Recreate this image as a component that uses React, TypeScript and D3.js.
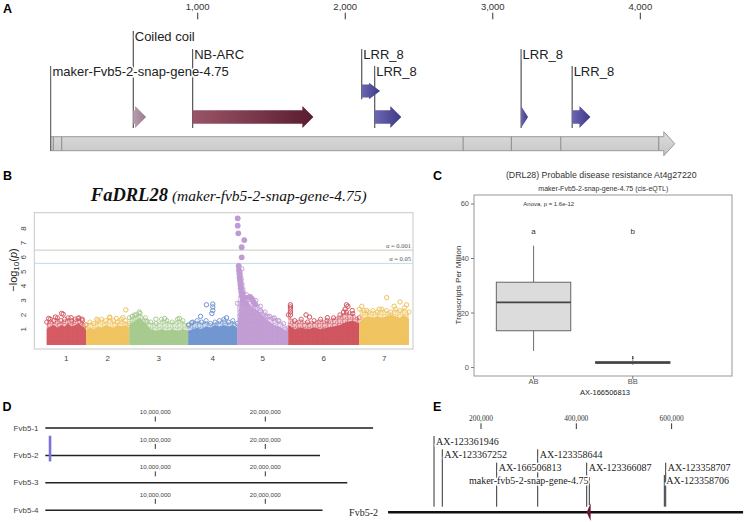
import React from 'react';
import * as d3 from 'd3';

// ---------- A: gene model (bp) ----------
const aTicks = [1000, 2000, 3000, 4000];
const geneName = 'maker-Fvb5-2-snap-gene-4.75';
const geneStart = 3;
const geneEnd = 4234;
const exonBreaks = [21, 78, 2799, 3126, 3461, 4125];
const domainNames = ['Coiled coil', 'NB-ARC', 'LRR_8', 'LRR_8', 'LRR_8', 'LRR_8'];
const domainStart = [563, 966, 2112, 2200, 3192, 3538];
const domainEnd = [650, 1784, 2236, 2380, 3239, 3662];
const domainTrack = [1, 1, 0, 1, 1, 1];
const domainLabelLevel = [0, 1, 1, 2, 1, 2];

// ---------- B: manhattan ----------
const chromNames = ['1', '2', '3', '4', '5', '6', '7'];
const chromLen = [39.3, 43.3, 59, 49, 51, 71, 49.7];
const bTicks = [1, 2, 3, 4, 5, 6, 7, 8];
const thresholds = [6.5, 5.58];
const thresholdLabels = ['α = 0.001', 'α = 0.05'];
// upper edge of the solid point cloud, evenly spaced along each chromosome
const denseTop = [
  [1.0, 1.2, 1.3, 1.1, 1.3, 1.2, 1.4, 1.2, 1.3, 1.4, 1.2, 1.0],
  [0.9, 1.1, 1.0, 1.2, 1.1, 1.3, 1.2, 1.1, 1.3, 1.2, 1.3, 1.1],
  [1.3, 1.6, 1.8, 1.4, 1.0, 0.9, 1.0, 0.9, 1.0, 0.9, 1.0, 0.9],
  [0.9, 1.0, 1.1, 1.0, 1.2, 1.1, 1.3, 1.2, 1.3, 1.2, 1.3, 1.1],
  [1.0, 4.6, 3.0, 2.6, 2.4, 2.1, 1.8, 1.5, 1.3, 1.2, 1.0, 0.9],
  [1.3, 1.0, 1.1, 1.0, 1.1, 1.0, 1.1, 1.2, 1.3, 1.5, 1.6, 1.4],
  [1.5, 1.8, 1.9, 1.8, 1.9, 1.8, 1.9, 2.0, 1.9, 1.8, 2.0, 1.7],
];
// upper edge of the sparser halo of points
const sparseTop = [
  [1.5, 1.7, 1.6, 1.8, 1.6, 1.7, 1.8, 1.6, 1.7, 1.8, 1.6, 1.3],
  [1.3, 1.5, 1.4, 1.6, 1.7, 1.6, 1.8, 1.6, 1.5, 1.7, 1.6, 1.4],
  [1.8, 2.0, 2.1, 1.8, 1.5, 1.4, 1.7, 1.6, 1.5, 1.7, 1.6, 1.3],
  [1.3, 1.5, 1.6, 1.5, 1.6, 1.4, 1.5, 1.6, 1.7, 1.5, 1.6, 1.4],
  [2.8, 5.2, 3.4, 3.2, 3.0, 2.6, 2.2, 1.9, 1.8, 1.6, 1.4, 1.1],
  [2.0, 1.6, 1.7, 1.5, 1.6, 1.7, 1.6, 1.8, 2.0, 2.2, 2.1, 1.8],
  [2.4, 2.3, 2.2, 2.3, 2.2, 2.4, 2.3, 2.2, 2.4, 2.3, 2.5, 2.2],
];
// [chromosome index, fraction along chromosome, -log10 p]
const outliers = [
  [0, 0.05, 1.75], [0, 0.22, 1.85], [0, 0.38, 2.1], [0, 0.42, 2.05], [0, 0.62, 1.8], [0, 0.8, 1.75], [0, 0.9, 1.7],
  [1, 0.25, 1.7], [1, 0.55, 1.85], [1, 0.7, 1.75], [1, 0.85, 1.8], [1, 0.92, 2.35],
  [2, 0.05, 1.9], [2, 0.12, 2.0], [2, 0.17, 2.2], [2, 0.3, 1.55], [2, 0.45, 1.7], [2, 0.6, 1.75], [2, 0.85, 1.75],
  [3, 0.07, 1.45], [3, 0.25, 1.9], [3, 0.37, 2.7], [3, 0.48, 2.1], [3, 0.5, 2.3], [3, 0.5, 2.55], [3, 0.5, 2.75], [3, 0.78, 1.8],
  [4, 0.45, 2.3], [4, 0.5, 2.0], [4, 0.6, 1.9], [4, 0.7, 1.75], [4, 0.8, 1.6],
  [5, 0.03, 2.0], [5, 0.03, 2.2], [5, 0.03, 2.4], [5, 0.03, 2.55], [5, 0.03, 2.7], [5, 0.25, 2.0], [5, 0.3, 1.85],
  [5, 0.55, 1.8], [5, 0.78, 2.2], [5, 0.8, 2.4], [5, 0.82, 2.7], [5, 0.84, 2.6], [5, 0.9, 2.3],
  [6, 0.05, 2.6], [6, 0.15, 2.3], [6, 0.4, 2.4], [6, 0.55, 3.2], [6, 0.7, 2.6], [6, 0.82, 2.9], [6, 0.95, 2.7],
];
// significant SNPs on chromosome 5: [fraction along chromosome, -log10 p]
const chr5Peak = [
  [0.008, 8.71], [0.008, 8.2], [0.02, 7.67], [0.137, 7.2], [0.086, 6.7], [0.086, 6.0], [0.027, 5.4],
  [0.033, 5.1], [0.04, 4.85], [0.045, 4.6], [0.053, 4.35], [0.06, 4.1], [0.067, 3.85], [0.078, 3.6],
  [0.09, 3.35], [0.11, 3.1], [0.17, 2.8], [0.21, 3.2], [0.25, 3.25], [0.29, 3.1], [0.32, 2.9], [0.35, 2.7],
];

// ---------- C: boxplot ----------
const genotypes = ['AB', 'BB'];
const boxLow = [6.1, 1.0];
const boxQ1 = [13.5, 1.5];
const boxMedian = [23.9, 1.8];
const boxQ3 = [31.3, 2.2];
const boxHigh = [44.7, 2.7];
const bbOutliers = [3.3, 3.9];
const groupLetters = ['a', 'b'];
const cTicks = [0, 20, 40, 60];

// ---------- D: chromosomes ----------
const dChroms = ['Fvb5-1', 'Fvb5-2', 'Fvb5-3', 'Fvb5-4'];
const dChromLen = [29.8e6, 24.97e6, 27.45e6, 25.2e6];
const dTicks = [10e6, 20e6];
const dHighlightChrom = 'Fvb5-2';
const dHighlightPos = 0.43e6;

// ---------- E: region ----------
const eTicks = [200000, 400000, 600000];
const eRegion = [5000, 750000];
const markerNames = ['AX-123361946', 'AX-123367252', 'AX-166506813', 'AX-123358644', 'AX-123366087', 'AX-123358707', 'AX-123358706'];
const markerPos = [101400, 118800, 232900, 319000, 421800, 587600, 584700];
const markerLevel = [0, 1, 2, 1, 2, 2, 3];
const eGeneName = 'maker-fvb5-2-snap-gene-4.75';
const eGeneStart = 421800;
const eGeneEnd = 430000;

const sans = 'Liberation Sans, Arial, Helvetica, sans-serif';
const serif = 'Liberation Serif, Times New Roman, serif';
const chromColors = ['#d4565f', '#efc25c', '#a4c98c', '#6e94cf', '#c09bd3', '#cf515c', '#efc25c'];

function arrowPath(x0: number, x1: number, yc: number, bh: number, hh: number, hl: number) {
  const hx = x1 - Math.min(hl, x1 - x0);
  return `M${x0},${yc - bh}L${hx},${yc - bh}L${hx},${yc - hh}L${x1},${yc}L${hx},${yc + hh}L${hx},${yc + bh}L${x0},${yc + bh}Z`;
}

const halo = { stroke: '#fff', strokeWidth: 3, paintOrder: 'stroke' as const };

export default function App() {
  // A
  const ax = d3.scaleLinear().domain([0, 4000]).range([50.2, 640.3]);
  const levelY = [36, 54, 71];
  const trackY = [91, 117];
  const trackHead = [8.3, 11];
  const trackBody = [6.5, 6.8];
  const domainGrad = ['gCoil', 'gNb', 'gLrr', 'gLrr', 'gLrr', 'gLrr'];

  // B
  const bX = d3.scaleLinear().domain([0, d3.sum(chromLen)]).range([46.7, 409]);
  const bY = d3.scaleLinear().domain([-0.37, 9.1]).range([349, 212.7]);
  const offsets = chromLen.map((_, i) => d3.sum(chromLen.slice(0, i)));
  const posOf = (ci: number, f: number) => bX(offsets[ci] + f * chromLen[ci]);
  const envelope = (ci: number, vals: number[]) =>
    d3.area<number>()
      .x((_, k) => posOf(ci, k / (vals.length - 1)))
      .y0(bY(-0.1))
      .y1(v => bY(v))(vals) as string;
  const bLeft = 34.3, bRight = 413, bTop = 212.7, bBottom = 349;

  // C
  const cX = d3.scaleLinear().domain([0.4, 3.0]).range([474, 732]);
  const cY = d3.scaleLinear().domain([-3.1, 63.3]).range([376, 195]);
  const boxW = 0.75;

  // D
  const dX = d3.scaleLinear().domain([0, 30e6]).range([45.3, 375.3]);
  const dRowY = d3.scalePoint<string>().domain(dChroms).range([428, 510.3]);
  const fmt = d3.format(',');

  // E
  const eX = d3.scaleLinear().domain([0, 750000]).range([385.7, 743.1]);
  const eLevelY = [441, 454.3, 467.7, 480];
  const eLineY = 512.3;

  return (
    <svg width={744} height={522} style={{ position: 'absolute', left: 0, top: 0, background: '#fff' }} fontFamily={sans}>
      <defs>
        <linearGradient id="gCoil" x1="0" x2="1"><stop offset="0" stopColor="#b79fae" /><stop offset="1" stopColor="#9a7a8e" /></linearGradient>
        <linearGradient id="gNb" x1="0" x2="1"><stop offset="0" stopColor="#9a5568" /><stop offset="1" stopColor="#5a1c2f" /></linearGradient>
        <linearGradient id="gLrr" x1="0" x2="1"><stop offset="0" stopColor="#6b67b2" /><stop offset="1" stopColor="#3e3984" /></linearGradient>
        <linearGradient id="gBar" x1="0" x2="0" y1="0" y2="1"><stop offset="0" stopColor="#dcdcdc" /><stop offset="1" stopColor="#c6c6c6" /></linearGradient>
        {chromColors.map((c, i) => (
          <pattern key={i} id={`pat${i}`} width={5} height={4.4} patternUnits="userSpaceOnUse">
            <circle cx={1.6} cy={1.4} r={1.5} fill="none" stroke={c} strokeWidth={0.7} />
            <circle cx={4.1} cy={3.6} r={1.5} fill="none" stroke={c} strokeWidth={0.7} />
          </pattern>
        ))}
      </defs>

      {/* panel letters */}
      {[['A', 3, 12.5], ['B', 3, 179.5], ['C', 433, 180], ['D', 2.5, 410.5], ['E', 433, 410.5]].map(([t, x, y]) => (
        <text key={t as string} x={x as number} y={y as number} fontSize={12.5} fontWeight="bold" fill="#000">{t}</text>
      ))}

      {/* ===== A ===== */}
      <g>
        {aTicks.map(t => (
          <g key={t}>
            <text x={ax(t)} y={9.5} fontSize={9.5} textAnchor="middle" fill="#333">{fmt(t)}</text>
            <line x1={ax(t)} x2={ax(t)} y1={12.7} y2={19.3} stroke="#333" strokeWidth={1} />
          </g>
        ))}
        {/* gene bar */}
        <path d={arrowPath(ax(geneStart), ax(geneEnd), 143.7, 7, 12, 11)} fill="url(#gBar)" stroke="#9a9a9a" strokeWidth={1} />
        {exonBreaks.map(b => (
          <line key={b} x1={ax(b)} x2={ax(b)} y1={136.7} y2={150.7} stroke="#8a8a8a" strokeWidth={1} />
        ))}
        {/* label lines */}
        <line x1={ax(geneStart)} x2={ax(geneStart)} y1={levelY[2] - 5} y2={151} stroke="#666" strokeWidth={1.2} />
        {domainNames.map((n, i) => {
          const x = ax(domainStart[i]);
          return (
            <line key={i} x1={x} x2={x} y1={levelY[domainLabelLevel[i]] - 5} y2={trackY[domainTrack[i]] + trackHead[domainTrack[i]]} stroke="#333" strokeWidth={1} />
          );
        })}
        {domainNames.map((n, i) => (
          <path key={i} d={arrowPath(ax(domainStart[i]), ax(domainEnd[i]), trackY[domainTrack[i]], trackBody[domainTrack[i]], trackHead[domainTrack[i]], 11)}
            fill={`url(#${domainGrad[i]})`} stroke="none" />
        ))}
        <text x={ax(geneStart) + 1.8} y={levelY[2]} dominantBaseline="central" fontSize={13} fill="#222" {...halo}>{geneName}</text>
        {domainNames.map((n, i) => (
          <text key={i} x={ax(domainStart[i]) + 1.5} y={levelY[domainLabelLevel[i]]} dominantBaseline="central" fontSize={13} fill="#222" {...halo}>{n}</text>
        ))}
      </g>

      {/* ===== B ===== */}
      <g>
        <text x={228.7} y={200.7} textAnchor="middle" fontFamily={serif} fill="#111">
          <tspan fontWeight="bold" fontStyle="italic" fontSize={18.5}>FaDRL28</tspan>
          <tspan fontStyle="italic" fontSize={15.5} dx={4}>(maker-fvb5-2-snap-gene-4.75)</tspan>
        </text>
        <rect x={bLeft} y={bTop} width={bRight - bLeft} height={bBottom - bTop} fill="#fff" stroke="#c9c9c9" strokeWidth={1} />
        {thresholds.map((t, i) => (
          <g key={i}>
            <line x1={bLeft} x2={bRight} y1={bY(t)} y2={bY(t)} stroke={i === 0 ? '#bfd1ba' : '#c3dae6'} strokeWidth={1} />
            <text x={bRight - 2} y={bY(t) - 2} textAnchor="end" fontFamily={serif} fontSize={6.5} fill="#555">{thresholdLabels[i]}</text>
          </g>
        ))}
        {chromNames.map((_, ci) => (
          <g key={ci}>
            <path d={envelope(ci, sparseTop[ci])} fill={chromColors[ci]} fillOpacity={0.3} />
            <path d={envelope(ci, sparseTop[ci])} fill={`url(#pat${ci})`} />
            <path d={envelope(ci, denseTop[ci])} fill={chromColors[ci]} fillOpacity={0.95} />
            {sparseTop[ci].map((v, k) => (
              <circle key={k} cx={posOf(ci, k / (sparseTop[ci].length - 1))} cy={bY(v)} r={2.1} fill="none" stroke={chromColors[ci]} strokeWidth={0.9} />
            ))}
          </g>
        ))}
        {outliers.map(([ci, f, v], i) => (
          <circle key={i} cx={posOf(ci, f)} cy={bY(v)} r={2.2} fill="none" stroke={chromColors[ci]} strokeWidth={1} />
        ))}
        {chr5Peak.map(([f, v], i) => (
          <circle key={i} cx={posOf(4, f)} cy={bY(v)} r={2.9} fill={chromColors[4]} />
        ))}
        {chromNames.map((n, ci) => (
          <text key={n} x={posOf(ci, 0.5)} y={358.3} dominantBaseline="central" textAnchor="middle" fontSize={8} fill="#444">{n}</text>
        ))}
        {bTicks.map(t => (
          <text key={t} x={23.3} y={bY(t)} transform={`rotate(-90,23.3,${bY(t)})`} textAnchor="middle" dominantBaseline="central" fontSize={8} fill="#444">{t}</text>
        ))}
        <text x={12.5} y={270} transform="rotate(-90,12.5,270)" textAnchor="middle" dominantBaseline="central" fontSize={11} fill="#222">
          −log<tspan fontSize={8} dy={3}>10</tspan><tspan dy={-3}>(</tspan><tspan fontStyle="italic">p</tspan>)
        </text>
      </g>

      {/* ===== C ===== */}
      <g>
        <text x={601.3} y={178} textAnchor="middle" fontSize={8.8} fill="#333">(DRL28) Probable disease resistance At4g27220</text>
        <text x={603.3} y={190.5} textAnchor="middle" fontSize={7} fill="#333">maker-Fvb5-2-snap-gene-4.75 (cis-eQTL)</text>
        <rect x={474} y={195} width={258} height={181} fill="#fff" stroke="#a8a8a8" strokeWidth={1.2} />
        {cTicks.map(t => (
          <g key={t}>
            <text x={469} y={cY(t)} textAnchor="end" dominantBaseline="central" fontSize={7.5} fill="#555">{t}</text>
            <line x1={471} x2={474} y1={cY(t)} y2={cY(t)} stroke="#777" />
          </g>
        ))}
        {genotypes.map((g, i) => (
          <g key={g}>
            <line x1={cX(i + 1)} x2={cX(i + 1)} y1={376} y2={379} stroke="#777" />
            <text x={cX(i + 1)} y={381.7} textAnchor="middle" dominantBaseline="central" fontSize={7.5} fill="#555">{g}</text>
            <line x1={cX(i + 1)} x2={cX(i + 1)} y1={cY(boxHigh[i])} y2={cY(boxLow[i])} stroke="#7a7a7a" strokeWidth={1.1} />
            <rect x={cX(i + 1 - boxW / 2)} y={cY(boxQ3[i])} width={cX(i + 1 + boxW / 2) - cX(i + 1 - boxW / 2)}
              height={Math.max(cY(boxQ1[i]) - cY(boxQ3[i]), 0.5)} fill="#dcdcdc" stroke="#666" strokeWidth={1} />
            <line x1={cX(i + 1 - boxW / 2)} x2={cX(i + 1 + boxW / 2)} y1={cY(boxMedian[i])} y2={cY(boxMedian[i])} stroke="#444" strokeWidth={1.6} />
            <text x={cX(i + 1)} y={cY(50)} textAnchor="middle" dominantBaseline="central" fontSize={8} fill="#333">{groupLetters[i]}</text>
          </g>
        ))}
        {bbOutliers.map((v, i) => (
          <circle key={i} cx={cX(2)} cy={cY(v)} r={0.9} fill="#444" />
        ))}
        <text x={523.3} y={cY(60)} dominantBaseline="central" fontSize={6} fill="#333">Anova, p = 1.6e-12</text>
        <text x={458.3} y={285} transform="rotate(-90,458.3,285)" textAnchor="middle" dominantBaseline="central" fontSize={8} fill="#333">Transcripts Per Million</text>
        <text x={605} y={392.3} textAnchor="middle" dominantBaseline="central" fontSize={7.5} fill="#222">AX-166506813</text>
      </g>

      {/* ===== D ===== */}
      <g>
        {dChroms.map((c, i) => {
          const y = dRowY(c) as number;
          return (
            <g key={c}>
              <text x={38.5} y={y} textAnchor="end" dominantBaseline="central" fontSize={8} fill="#444">{c}</text>
              <line x1={dX(0)} x2={dX(dChromLen[i])} y1={y} y2={y} stroke={i === 0 ? '#555' : '#222'} strokeWidth={i === 0 ? 2 : 1.5} />
              {dTicks.map(t => (
                <g key={t}>
                  <text x={dX(t)} y={y - 16.3} textAnchor="middle" dominantBaseline="central" fontSize={6.2} fill="#444">{fmt(t)}</text>
                  <line x1={dX(t)} x2={dX(t)} y1={y - 11.5} y2={y - 6.5} stroke="#333" strokeWidth={1} />
                </g>
              ))}
              {c === dHighlightChrom && (
                <rect x={dX(dHighlightPos) - 1.3} y={y - 19.7} width={2.6} height={25.7} fill="#7c72dc" />
              )}
            </g>
          );
        })}
      </g>

      {/* ===== E ===== */}
      <g fontFamily={serif}>
        {eTicks.map(t => (
          <g key={t}>
            <text x={eX(t)} y={418.3} textAnchor="middle" dominantBaseline="central" fontSize={7.4} fill="#333">{fmt(t)}</text>
            <line x1={eX(t)} x2={eX(t)} y1={423.3} y2={429} stroke="#333" strokeWidth={1} />
          </g>
        ))}
        <text x={378} y={eLineY} textAnchor="end" dominantBaseline="central" fontSize={10} fill="#222">Fvb5-2</text>
        {markerNames.map((m, i) => (
          <line key={m} x1={eX(markerPos[i])} x2={eX(markerPos[i])} y1={eLevelY[markerLevel[i]] - 5} y2={506.7} stroke="#333" strokeWidth={1} />
        ))}
        <line x1={eX(eGeneEnd) - 1.3} x2={eX(eGeneEnd) - 1.3} y1={eLevelY[3] - 3} y2={505} stroke="#333" strokeWidth={1} />
        <line x1={eX(eRegion[0])} x2={eX(eRegion[1])} y1={eLineY} y2={eLineY} stroke="#111" strokeWidth={2.5} />
        <path d={`M${eX(eGeneStart)},${eLineY}L${eX(eGeneEnd)},${eLineY - 9}L${eX(eGeneEnd)},${eLineY + 8.7}Z`} fill="#6e1234" />
        {markerNames.map((m, i) => (
          <text key={m} x={eX(markerPos[i]) + 2} y={eLevelY[markerLevel[i]]} dominantBaseline="central" fontSize={10} fill="#222" {...halo}>{m}</text>
        ))}
        <text x={eX(eGeneEnd) - 2.2} y={eLevelY[3]} textAnchor="end" dominantBaseline="central" fontSize={10} fill="#222" {...halo}>{eGeneName}</text>
      </g>
    </svg>
  );
}
